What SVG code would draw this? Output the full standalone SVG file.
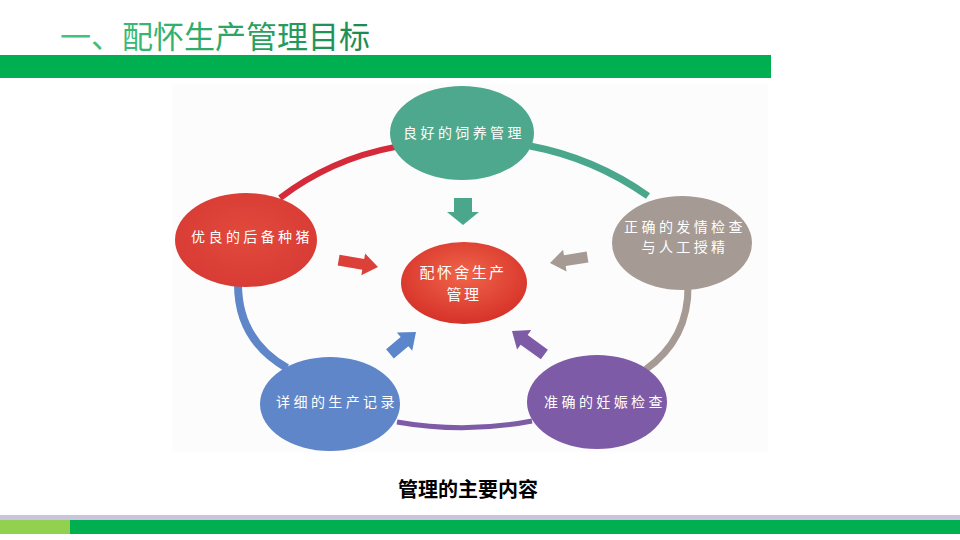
<svg xmlns="http://www.w3.org/2000/svg" width="960" height="540" viewBox="0 0 960 540">
<defs>
<linearGradient id="titleGrad" x1="0" y1="0" x2="1" y2="0">
<stop offset="0" stop-color="#3ec77f"/>
<stop offset="1" stop-color="#1c8a50"/>
</linearGradient>
<radialGradient id="centerGrad" cx="0.5" cy="0.4" r="0.6">
<stop offset="0" stop-color="#f0654a"/>
<stop offset="1" stop-color="#d63229"/>
</radialGradient>
<radialGradient id="leftRedGrad" cx="0.5" cy="0.45" r="0.6">
<stop offset="0" stop-color="#e24a3c"/>
<stop offset="1" stop-color="#d73a34"/>
</radialGradient>
<style>
.node-text{font-family:"Noto Sans CJK SC","Noto Sans",sans-serif;font-size:14px;fill:#ffffff;text-anchor:middle;letter-spacing:3.4px;}
.center-text{font-family:"Noto Sans CJK SC","Noto Sans",sans-serif;font-size:15px;fill:#ffffff;text-anchor:middle;letter-spacing:2.4px;}
.arc{fill:none;stroke-linecap:butt;}
</style>
</defs>
<rect x="0" y="0" width="960" height="540" fill="#ffffff"/>
<text x="60" y="48" font-family="'Noto Sans CJK SC','Noto Sans',sans-serif" font-size="31" fill="url(#titleGrad)">一、配怀生产管理目标</text>
<rect x="0" y="55" width="771" height="23" fill="#00b050"/>
<rect x="172" y="84" width="596" height="368" fill="#fcfcfc"/>
<g id="connectors">
<path class="arc" d="M280,198 Q331,159 395,147" stroke="#d42a3a" stroke-width="6"/>
<path class="arc" d="M530,146 Q594,158 648,196" stroke="#4aa78b" stroke-width="7"/>
<path class="arc" d="M688,285 Q689,339 645,370" stroke="#a59a94" stroke-width="7"/>
<path class="arc" d="M397,422 Q465,434 532,421" stroke="#7d5ba6" stroke-width="5"/>
<path class="arc" d="M238,284 Q238,340 287,368" stroke="#5f86c8" stroke-width="8"/>
<polygon points="-27,-9 -13,-9 -13,-16 0,0 -13,16 -13,9 -27,9" fill="#4aa78b" transform="translate(463,225) rotate(90)"/>
<polygon points="-40,-5.5 -15,-5.5 -15,-11 0,0 -15,11 -15,5.5 -40,5.5" fill="#dc4139" transform="translate(378,267) rotate(10)"/>
<polygon points="-38,-5.5 -15,-5.5 -15,-11 0,0 -15,11 -15,5.5 -38,5.5" fill="#a59a94" transform="translate(550,263) rotate(171)"/>
<polygon points="-34,-6 -15,-6 -15,-12 0,0 -15,12 -15,6 -34,6" fill="#5b86cc" transform="translate(416,332) rotate(-40)"/>
<polygon points="-40,-6 -15,-6 -15,-12 0,0 -15,12 -15,6 -40,6" fill="#7d5ba6" transform="translate(512,331) rotate(-144)"/>
</g>
<g id="node-top">
<ellipse cx="462" cy="133" rx="72" ry="47" fill="#4ea88d"/>
<text class="node-text" x="464" y="138">良好的饲养管理</text>
</g>
<g id="node-right">
<ellipse cx="682" cy="243" rx="70" ry="47" fill="#a59a94"/>
<text class="node-text" x="685" y="232">正确的发情检查</text>
<text class="node-text" x="685" y="252">与人工授精</text>
</g>
<g id="node-bottom-right">
<ellipse cx="597" cy="402" rx="70" ry="47" fill="#7d5ba6"/>
<text class="node-text" x="605" y="407">准确的妊娠检查</text>
</g>
<g id="node-bottom-left">
<ellipse cx="330" cy="404" rx="70" ry="47" fill="#5f86c8"/>
<text class="node-text" x="337" y="407">详细的生产记录</text>
</g>
<g id="node-left">
<ellipse cx="246" cy="240" rx="71" ry="47" fill="url(#leftRedGrad)"/>
<text class="node-text" x="252" y="242">优良的后备种猪</text>
</g>
<g id="node-center">
<ellipse cx="464" cy="283" rx="63" ry="41" fill="url(#centerGrad)"/>
<text class="center-text" x="463" y="278">配怀舍生产</text>
<text class="center-text" x="464" y="300">管理</text>
</g>
<text x="468" y="497" font-family="'Liberation Serif','Noto Sans CJK SC',serif" font-size="20" font-weight="bold" fill="#000000" text-anchor="middle">管理的主要内容</text>
<rect x="0" y="515" width="960" height="5" fill="#ccc4dc"/>
<rect x="0" y="520" width="960" height="14" fill="#00b050"/>
<rect x="0" y="520" width="70" height="14" fill="#92d050"/>
</svg>
